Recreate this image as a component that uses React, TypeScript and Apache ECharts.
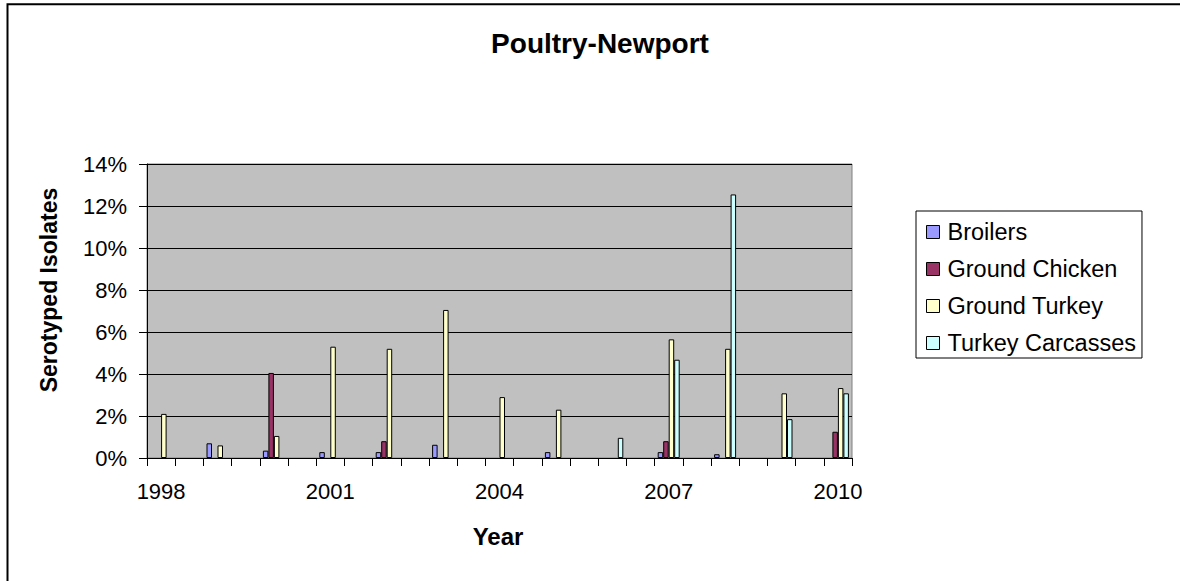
import React, { useEffect, useRef } from "react";
import * as echarts from "echarts";

const years = ["1998", "1999", "2000", "2001", "2002", "2003", "2004", "2005", "2006", "2007", "2008", "2009", "2010"];
const broilers = [null, 0.7, 0.35, 0.28, 0.28, 0.63, null, 0.28, null, 0.28, 0.18, null, null];
const groundChicken = [null, null, 4.05, null, 0.8, null, null, null, null, 0.8, null, null, 1.25];
const groundTurkey = [2.1, 0.6, 1.05, 5.3, 5.2, 7.05, 2.9, 2.3, null, 5.65, 5.2, 3.08, 3.33];
const turkeyCarcasses = [null, null, null, null, null, null, null, null, 0.96, 4.68, 12.55, 1.85, 3.08];
const seriesNames = ["Broilers", "Ground Chicken", "Ground Turkey", "Turkey Carcasses"];
const seriesColors = ["#9999FF", "#993366", "#FFFFCC", "#CCFFFF"];
const yMin = 0;
const yMax = 14;
const yStep = 2;

const FONT = "'Liberation Sans', Arial, sans-serif";

// The x axis is split in half-year slots; each year sits on its own slot.
const categories = years.flatMap((y, i) => (i < years.length - 1 ? [y, y + " H2"] : [y]));
const spread = (vals: (number | null)[]) =>
  vals.flatMap((v, i) => (i < vals.length - 1 ? [v, null] : [v]));

export default function App() {
  const ref = useRef<HTMLDivElement>(null);
  useEffect(() => {
    if (!ref.current) return;
    const chart = echarts.init(ref.current, null, { renderer: "svg" });
    const allData = [broilers, groundChicken, groundTurkey, turkeyCarcasses];
    chart.setOption({
      animation: false,
      backgroundColor: "#ffffff",
      textStyle: { fontFamily: FONT },
      grid: {
        left: 147,
        right: 328,
        top: 164,
        bottom: 123,
        show: true,
        backgroundColor: "#C0C0C0",
        borderColor: "#808080",
        borderWidth: 1,
      },
      legend: {
        orient: "vertical",
        left: 916,
        top: 211,
        padding: [9, 6, 3, 10],
        itemGap: 13,
        itemWidth: 13,
        itemHeight: 13,
        borderColor: "#000",
        borderWidth: 1,
        icon: "rect",
        data: seriesNames,
        itemStyle: { borderColor: "#000", borderWidth: 1 },
        textStyle: { fontFamily: FONT, fontSize: 23.5, color: "#000", padding: [0, 0, 0, 3] },
      },
      xAxis: {
        type: "category",
        data: categories,
        boundaryGap: true,
        axisLine: { lineStyle: { color: "#000", width: 1 } },
        axisTick: { show: true, interval: 0, length: 8, lineStyle: { color: "#000" } },
        axisLabel: { interval: 5, fontFamily: FONT, fontSize: 22, color: "#000", margin: 22 },
        splitLine: { show: false },
      },
      yAxis: {
        type: "value",
        min: yMin,
        max: yMax,
        interval: yStep,
        axisLine: { show: true, lineStyle: { color: "#000", width: 1 } },
        axisTick: { show: true, length: 8, lineStyle: { color: "#000" } },
        axisLabel: { formatter: "{value}%", fontFamily: FONT, fontSize: 22, color: "#000", margin: 20 },
        splitLine: { show: true, lineStyle: { color: "#000", width: 1 } },
      },
      graphic: [
        {
          type: "rect",
          silent: true,
          shape: { x: 7.5, y: 4.3, width: 1400, height: 900 },
          style: { fill: "none", stroke: "#000", lineWidth: 2 },
        },
        {
          type: "text",
          x: 600,
          y: 43,
          style: {
            text: "Poultry-Newport",
            font: `bold 28px ${FONT}`,
            fill: "#000",
            align: "center",
            verticalAlign: "middle",
          },
        },
        {
          type: "text",
          x: 49,
          y: 290,
          rotation: Math.PI / 2,
          style: {
            text: "Serotyped Isolates",
            font: `bold 23px ${FONT}`,
            fill: "#000",
            align: "center",
            verticalAlign: "middle",
          },
        },
        {
          type: "text",
          x: 498,
          y: 536,
          style: {
            text: "Year",
            font: `bold 24px ${FONT}`,
            fill: "#000",
            align: "center",
            verticalAlign: "middle",
          },
        },
      ],
      series: seriesNames.map((name, i) => ({
        name,
        type: "bar",
        data: spread(allData[i]),
        barWidth: 5.5,
        barGap: "0%",
        itemStyle: { color: seriesColors[i], borderColor: "#000", borderWidth: 1 },
      })),
    });
    return () => chart.dispose();
  }, []);
  return (
    <div
      ref={ref}
      style={{ position: "fixed", left: 0, top: 0, width: 1180, height: 581, background: "#fff" }}
    />
  );
}
